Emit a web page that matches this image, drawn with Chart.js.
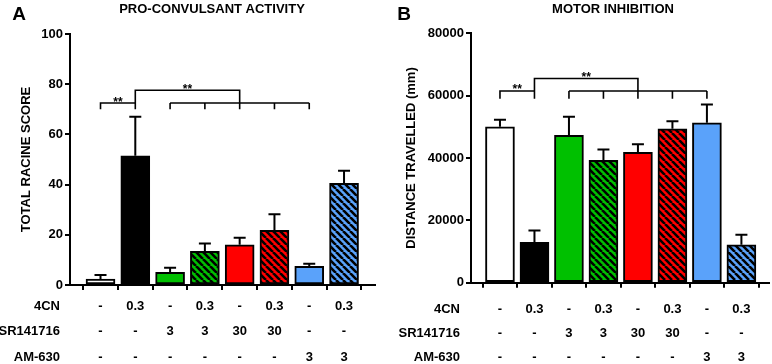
<!DOCTYPE html>
<html>
<head>
<meta charset="utf-8">
<script src="https://cdn.jsdelivr.net/npm/chart.js@4.4.0/dist/chart.umd.min.js"></script>
<style>
  body { margin: 0; background: #fff; }
  canvas { position: absolute; top: 0; }
  #chartA { left: 0; }
  #chartB { left: 385px; }
</style>
</head>
<body>
<canvas id="chartA" width="385" height="364"></canvas>
<canvas id="chartB" width="387" height="364"></canvas>
<script>
// treatment groups (one bar each)
const groupIdx = [0, 1, 2, 3, 4, 5, 6, 7];
const rowNames = ['4CN', 'SR141716', 'AM-630'];
const dose4CN = ['-', '0.3', '-', '0.3', '-', '0.3', '-', '0.3'];
const doseSR = ['-', '-', '3', '3', '30', '30', '-', '-'];
const doseAM = ['-', '-', '-', '-', '-', '-', '3', '3'];
const fillColors = ['#ffffff', '#000000', '#00c000', '#00c000', '#ff0000', '#ff0000', '#5aa2fa', '#5aa2fa'];
const hatched = [false, false, false, true, false, true, false, true];

// A: pro-convulsant activity
const racineMean = [2.4, 51.5, 5.0, 13.4, 16.0, 21.8, 7.4, 40.5];
const racineSem = [1.6, 15.5, 1.9, 3.1, 2.8, 6.4, 1.1, 5.0];
const racineTicks = [0, 20, 40, 60, 80, 100];
const racineSig = [70, 72.5, 77.6];          // leg end, lower line, upper line

// B: motor inhibition
const distMean = [50000, 12950, 47240, 39230, 41800, 49360, 51280, 12180];
const distSem = [2300, 3800, 6000, 3500, 2600, 2400, 5900, 3200];
const distTicks = [0, 20000, 40000, 60000, 80000];
const distSig = [59000, 61500, 65500];

// which bars the "**" brackets join
const sigPair = [0, 1];
const sigGroup = [2, 3, 4, 5, 6];
const sigHub = 4;

const FAMILY = '"Liberation Sans", Arial, Helvetica, sans-serif';

function hatch(color) {
  const s = 7;
  const c = document.createElement('canvas');
  c.width = s; c.height = s;
  const g = c.getContext('2d');
  g.fillStyle = color;
  g.fillRect(0, 0, s, s);
  g.strokeStyle = '#000';
  g.lineWidth = 2.6;
  g.beginPath();
  for (let k = -1; k <= 1; k++) {
    g.moveTo(k * s, 0);
    g.lineTo(k * s + s, s);
  }
  g.stroke();
  return g.createPattern(c, 'repeat');
}

function errorBarPlugin(mean, sem) {
  return {
    id: 'errorBars',
    afterDatasetsDraw(chart) {
      const ctx = chart.ctx;
      const y = chart.scales.y;
      ctx.save();
      ctx.strokeStyle = '#000';
      ctx.lineWidth = 2;
      chart.getDatasetMeta(0).data.forEach((bar, i) => {
        const top = y.getPixelForValue(mean[i] + sem[i]);
        ctx.beginPath();
        ctx.moveTo(bar.x, bar.y);
        ctx.lineTo(bar.x, top);
        ctx.moveTo(bar.x - 6, top);
        ctx.lineTo(bar.x + 6, top);
        ctx.stroke();
      });
      ctx.restore();
    }
  };
}

function sigPlugin(levels) {
  return {
    id: 'sigBrackets',
    afterDatasetsDraw(chart) {
      const {ctx, scales: {x, y}} = chart;
      const px = i => x.getPixelForValue(i);
      const [leg, low, high] = levels.map(v => y.getPixelForValue(v));
      const a = px(sigPair[0]), b = px(sigPair[1]), hub = px(sigHub);
      ctx.save();
      ctx.strokeStyle = '#000';
      ctx.lineWidth = 1.6;
      ctx.beginPath();
      ctx.moveTo(a, leg); ctx.lineTo(a, low); ctx.lineTo(b, low);
      ctx.moveTo(b, leg); ctx.lineTo(b, high); ctx.lineTo(hub, high); ctx.lineTo(hub, leg);
      ctx.moveTo(px(sigGroup[0]), low); ctx.lineTo(px(sigGroup[sigGroup.length - 1]), low);
      sigGroup.forEach(i => { ctx.moveTo(px(i), low); ctx.lineTo(px(i), leg); });
      ctx.stroke();
      ctx.fillStyle = '#000';
      ctx.font = 'bold 12px ' + FAMILY;
      ctx.textAlign = 'center';
      ctx.textBaseline = 'alphabetic';
      ctx.fillText('**', (a + b) / 2, low + 2.5);
      ctx.fillText('**', (b + hub) / 2, high + 2.5);
      ctx.restore();
    }
  };
}

function decorPlugin(cfg) {
  return {
    id: 'decor',
    afterDraw(chart) {
      const {ctx, scales: {x}} = chart;
      ctx.save();
      ctx.fillStyle = '#000';
      ctx.textBaseline = 'middle';
      ctx.font = 'bold 19px ' + FAMILY;
      ctx.textAlign = 'center';
      ctx.fillText(cfg.letter, 19, 15);
      ctx.font = 'bold 13px ' + FAMILY;
      ctx.fillText(cfg.title, cfg.titleX, 9);
      ctx.textAlign = 'right';
      rowNames.forEach((name, i) => {
        const ty = x.top + 5 + cfg.rowPad + cfg.rowLine * (i + 0.5);
        ctx.fillText(name, cfg.rowX, ty);
      });
      ctx.restore();
    }
  };
}

function makeChart(id, cfg) {
  const ctx = document.getElementById(id).getContext('2d');
  const bg = fillColors.map((c, i) => hatched[i] ? hatch(c) : c);
  return new Chart(ctx, {
    type: 'bar',
    data: {
      datasets: [{
        data: groupIdx.map(i => ({x: i, y: cfg.mean[i]})),
        backgroundColor: bg,
        borderColor: '#000',
        borderWidth: 2,
        borderSkipped: false,
        barThickness: 29
      }]
    },
    options: {
      responsive: false,
      animation: false,
      layout: {padding: {left: 0, right: cfg.padRight, top: cfg.padTop, bottom: 0}},
      plugins: {legend: {display: false}, tooltip: {enabled: false}},
      scales: {
        x: {
          type: 'linear',
          min: cfg.xMin,
          max: cfg.xMax,
          offset: false,
          afterBuildTicks: s => { s.ticks = groupIdx.map(v => ({value: v})); },
          afterFit: s => { s.height = cfg.xHeight; },
          grid: {drawOnChartArea: false, drawTicks: true, tickLength: 5, color: '#000', lineWidth: 2},
          border: {display: true, color: '#000', width: 2},
          ticks: {
            autoSkip: false,
            maxRotation: 0,
            padding: cfg.rowPad,
            color: '#000',
            font: {family: FAMILY, size: 13, weight: 'bold', lineHeight: cfg.rowLine + 'px'},
            callback: v => [dose4CN[v], doseSR[v], doseAM[v]]
          }
        },
        y: {
          min: 0,
          max: cfg.ticks[cfg.ticks.length - 1],
          afterBuildTicks: s => { s.ticks = cfg.ticks.map(v => ({value: v})); },
          afterFit: s => { s.width = cfg.yWidth; },
          grid: {drawOnChartArea: false, drawTicks: true, tickLength: 5, color: '#000', lineWidth: 2},
          border: {display: true, color: '#000', width: 2},
          ticks: {
            padding: 2,
            color: '#000',
            font: {family: FAMILY, size: 13, weight: 'bold'},
            callback: v => String(v)
          },
          title: {
            display: true,
            text: cfg.yTitle,
            color: '#000',
            padding: {top: cfg.yTitlePad, bottom: 0},
            font: {family: FAMILY, size: 13, weight: 'bold'}
          }
        }
      }
    },
    plugins: [errorBarPlugin(cfg.mean, cfg.sem), sigPlugin(cfg.sig), decorPlugin(cfg)]
  });
}

makeChart('chartA', {
  mean: racineMean, sem: racineSem, ticks: racineTicks, sig: racineSig,
  yTitle: 'TOTAL RACINE SCORE', yTitlePad: 19, yWidth: 70,
  xMin: -0.877, xMax: 7.89, xHeight: 79, padTop: 34, padRight: 10,
  rowPad: 3.5, rowLine: 25.4, rowX: 60,
  letter: 'A', title: 'PRO-CONVULSANT ACTIVITY', titleX: 212
});

makeChart('chartB', {
  mean: distMean, sem: distSem, ticks: distTicks, sig: distSig,
  yTitle: 'DISTANCE TRAVELLED (mm)', yTitlePad: 19, yWidth: 86,
  xMin: -0.84, xMax: 7.8, xHeight: 81.3, padTop: 33.3, padRight: 3,
  rowPad: 10, rowLine: 24, rowX: 75,
  letter: 'B', title: 'MOTOR INHIBITION', titleX: 228
});
</script>
</body>
</html>
